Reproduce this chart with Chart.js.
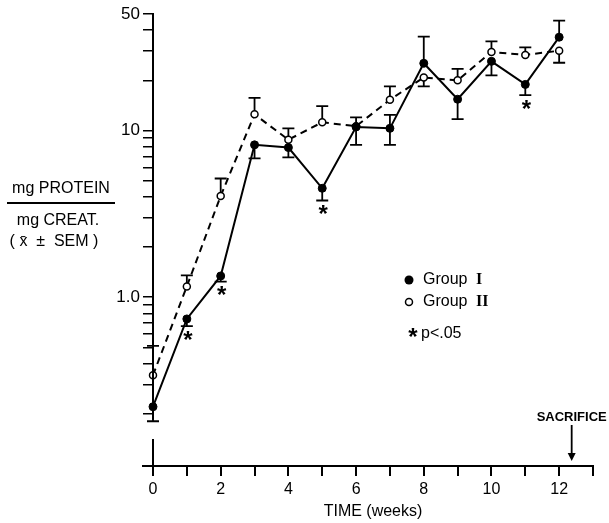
<!DOCTYPE html>
<html>
<head>
<meta charset="utf-8">
<script src="https://cdn.jsdelivr.net/npm/chart.js@4/dist/chart.umd.min.js"></script>
<style>
  html, body { margin: 0; padding: 0; background: #fff; }
  #wrap { width: 609px; height: 523px; }
</style>
</head>
<body>
<div id="wrap"><canvas id="chart" width="609" height="523"></canvas></div>
<script>
const WEEKS = [0, 1, 2, 3, 4, 5, 6, 7, 8, 9, 10, 11, 12];

const GROUP1 = [0.22, 0.74, 1.34, 8.2, 7.9, 4.5, 10.5, 10.3, 25.3, 15.4, 26.0, 18.9, 36.3];
const GROUP1_HI = [null, null, null, null, null, null, null, 12.4, 36.6, null, null, null, 45.6];
const GROUP1_LO = [0.18, 0.67, 1.24, 6.8, 6.9, 3.8, 8.2, 8.2, null, 11.7, 21.4, 16.3, null];

const GROUP2 = [0.34, 1.16, 4.05, 12.5, 8.8, 11.2, 10.6, 15.3, 20.8, 20.0, 29.6, 28.4, 30.1];
const GROUP2_HI = [0.51, 1.35, 5.15, 15.7, 10.3, 14.0, 12.0, 18.4, null, 23.4, 34.3, 31.5, null];
const GROUP2_LO = [null, null, null, null, null, null, null, null, 18.4, null, null, null, 25.5];

const SIG_WEEKS = [1, 2, 5, 11];
const SACRIFICE_WEEK = 12.37;

const Y_TICKS = [0.2, 0.3, 0.4, 0.5, 0.6, 0.7, 0.8, 0.9, 1, 2, 3, 4, 5, 6, 7, 8, 9, 10, 20, 30, 40, 50];
const Y_LABELS = { 1: "1.0", 10: "10", 50: "50" };
const X_LABELED = [0, 2, 4, 6, 8, 10, 12];

const FONT = "'Liberation Sans', Arial, sans-serif";
const SERIF = "'Liberation Serif', serif";

function points(values) {
    return WEEKS.map((w, i) => ({ x: w, y: values[i] }));
}

function star(ctx, x, y) {
    ctx.save();
    ctx.font = "bold 24px " + FONT;
    ctx.textAlign = "center";
    ctx.textBaseline = "middle";
    ctx.fillText("*", x, y + 4);
    ctx.restore();
}

const decor = {
    id: "decor",
    beforeDatasetsDraw(chart) {
        const { ctx } = chart;
        const xs = chart.scales.x, ys = chart.scales.y;
        ctx.save();
        ctx.strokeStyle = "#000";
        ctx.lineWidth = 1.8;
        const bars = [[GROUP1_HI, GROUP1], [GROUP1_LO, GROUP1], [GROUP2_HI, GROUP2], [GROUP2_LO, GROUP2]];
        bars.forEach(([ends, vals]) => {
            ends.forEach((e, i) => {
                if (e === null) return;
                const px = xs.getPixelForValue(WEEKS[i]);
                const p0 = ys.getPixelForValue(vals[i]);
                const p1 = ys.getPixelForValue(e);
                ctx.beginPath();
                ctx.moveTo(px, p0);
                ctx.lineTo(px, p1);
                ctx.moveTo(px - 6, p1);
                ctx.lineTo(px + 6, p1);
                ctx.stroke();
            });
        });
        ctx.restore();
    },
    afterDraw(chart) {
        const { ctx, chartArea } = chart;
        const xs = chart.scales.x, ys = chart.scales.y;
        const x0 = xs.getPixelForValue(0);
        ctx.save();
        ctx.strokeStyle = "#000";
        ctx.fillStyle = "#000";
        ctx.lineWidth = 2;

        // broken y axis
        const gapTop = ys.getPixelForValue(0.2) + 6;
        ctx.beginPath();
        ctx.moveTo(x0, chartArea.top - 1);
        ctx.lineTo(x0, gapTop);
        ctx.moveTo(x0, chartArea.bottom - 27);
        ctx.lineTo(x0, chartArea.bottom);
        ctx.stroke();

        // x axis line
        ctx.beginPath();
        ctx.moveTo(x0 - 11, chartArea.bottom);
        ctx.lineTo(xs.getPixelForValue(13) + 1, chartArea.bottom);
        ctx.stroke();

        // significance stars
        SIG_WEEKS.forEach(w => {
            const i = WEEKS.indexOf(w);
            const low = GROUP1_LO[i] !== null ? GROUP1_LO[i] : GROUP1[i];
            star(ctx, xs.getPixelForValue(w) + 1, ys.getPixelForValue(low) + 11);
        });

        // legend
        ctx.lineWidth = 1.5;
        ctx.beginPath();
        ctx.arc(409, 280, 4.5, 0, Math.PI * 2);
        ctx.fill();
        ctx.beginPath();
        ctx.arc(409, 302, 3.5, 0, Math.PI * 2);
        ctx.stroke();
        ctx.font = "16px " + FONT;
        ctx.textAlign = "left";
        ctx.textBaseline = "middle";
        ctx.fillText("Group", 423, 280);
        ctx.fillText("Group", 423, 302);
        ctx.font = "bold 16px " + SERIF;
        ctx.fillText("I", 476, 280);
        ctx.fillText("II", 476, 302);
        star(ctx, 413, 334);
        ctx.font = "16px " + FONT;
        ctx.fillText("p<.05", 421, 334);

        // y axis title
        ctx.textAlign = "center";
        ctx.fillText("mg PROTEIN", 61, 189);
        ctx.fillText("mg CREAT.", 58, 221);
        ctx.fillText("( x\u0304  \u00b1  SEM )", 54, 242);
        ctx.lineWidth = 2;
        ctx.beginPath();
        ctx.moveTo(7, 203);
        ctx.lineTo(115, 203);
        ctx.stroke();

        // sacrifice marker
        const sx = xs.getPixelForValue(SACRIFICE_WEEK);
        ctx.font = "bold 13px " + FONT;
        ctx.fillText("SACRIFICE", sx, 417);
        ctx.lineWidth = 1.8;
        ctx.beginPath();
        ctx.moveTo(sx, 425);
        ctx.lineTo(sx, chartArea.bottom - 8);
        ctx.stroke();
        ctx.beginPath();
        ctx.moveTo(sx - 4, chartArea.bottom - 13);
        ctx.lineTo(sx, chartArea.bottom - 5);
        ctx.lineTo(sx + 4, chartArea.bottom - 13);
        ctx.closePath();
        ctx.fill();
        ctx.restore();
    }
};

new Chart(document.getElementById("chart"), {
    type: "line",
    data: {
        datasets: [
            {
                label: "Group I",
                data: points(GROUP1),
                borderColor: "#000",
                backgroundColor: "#000",
                borderWidth: 2,
                pointRadius: 4,
                pointBorderWidth: 1,
                pointBackgroundColor: "#000",
                tension: 0,
                clip: false,
                order: 1
            },
            {
                label: "Group II",
                data: points(GROUP2),
                borderColor: "#000",
                backgroundColor: "#fff",
                borderWidth: 2,
                borderDash: [7, 5],
                pointRadius: 3.5,
                pointBorderWidth: 1.5,
                pointBackgroundColor: "#fff",
                tension: 0,
                clip: false,
                order: 2
            }
        ]
    },
    options: {
        responsive: false,
        animation: false,
        events: [],
        layout: { padding: { top: 14, right: 16, left: 0, bottom: 0 } },
        plugins: { legend: { display: false }, tooltip: { enabled: false } },
        scales: {
            x: {
                type: "linear",
                min: 0,
                max: 13,
                afterFit: s => { s.height = 57; },
                border: { display: false },
                grid: { drawOnChartArea: false, drawTicks: true, tickLength: 10, color: "#000", lineWidth: 2 },
                ticks: {
                    stepSize: 1,
                    color: "#000",
                    padding: 4,
                    font: { family: FONT, size: 16 },
                    callback: v => X_LABELED.includes(v) ? String(v) : ""
                },
                title: {
                    display: true,
                    text: "TIME (weeks)",
                    color: "#000",
                    font: { family: FONT, size: 16 },
                    padding: { top: 0, bottom: 2 }
                }
            },
            y: {
                type: "logarithmic",
                min: 0.097,
                max: 50,
                afterFit: s => { s.width = 153; },
                afterBuildTicks: s => { s.ticks = Y_TICKS.map(v => ({ value: v })); },
                border: { display: false },
                grid: { drawOnChartArea: false, drawTicks: true, tickLength: 10, color: "#000", lineWidth: 1.5 },
                ticks: {
                    color: "#000",
                    padding: 3,
                    autoSkip: false,
                    font: { family: FONT, size: 17 },
                    callback: v => Y_LABELS[v] || ""
                }
            }
        }
    },
    plugins: [decor]
});
</script>
</body>
</html>
